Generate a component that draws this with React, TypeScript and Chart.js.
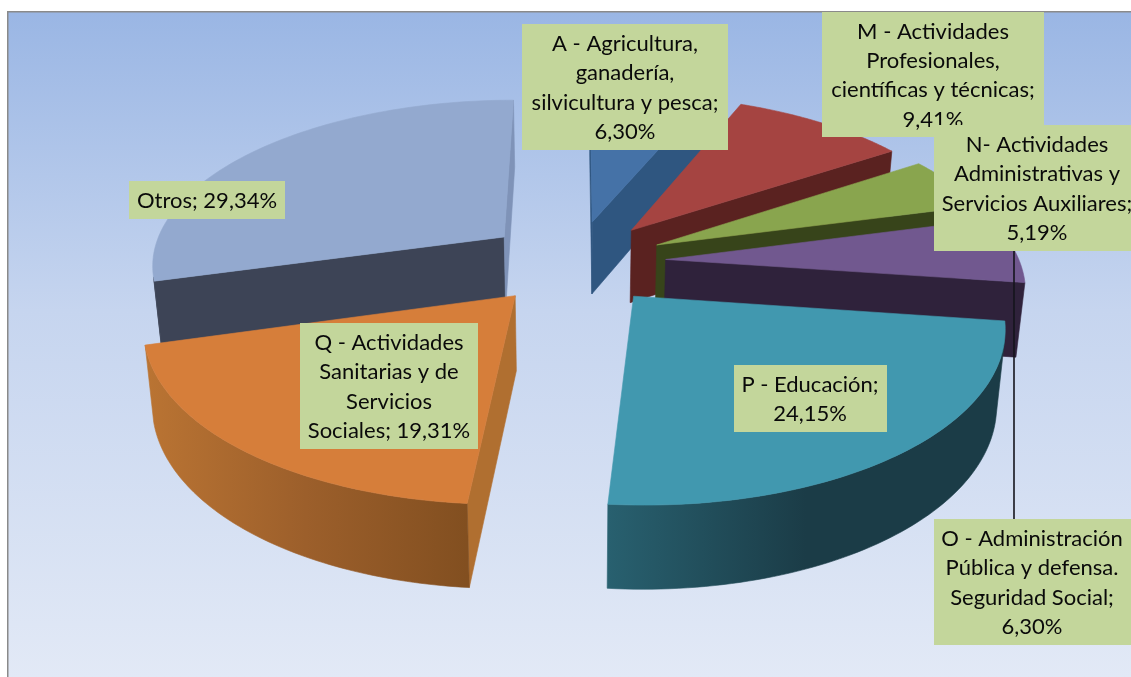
import React, { useEffect, useRef } from "react";
import { Chart, registerables } from "chart.js";

Chart.register(...registerables);

// ---- data ----
const categories = ["A", "M", "N", "O", "P", "Q", "Otros"];
const values = [6.3, 9.41, 5.19, 6.3, 24.15, 19.31, 29.34];
const labelLines = [
  ["A - Agricultura,", "ganadería,", "silvicultura y pesca;", "6,30%"],
  ["M - Actividades", "Profesionales,", "científicas y técnicas;", "9,41%"],
  ["N- Actividades", "Administrativas y", "Servicios Auxiliares;", "5,19%"],
  ["O - Administración", "Pública y defensa.", "Seguridad Social;", "6,30%"],
  ["P - Educación;", "24,15%"],
  ["Q - Actividades", "Sanitarias y de", "Servicios", "Sociales; 19,31%"],
  ["Otros; 29,34%"],
];

// ---- styles ----
const topColors = ["#4572a7", "#a54441", "#89a54e", "#71588f", "#4198af", "#d67e3a", "#93a9cf"];
const startFace = ["#2f5680", "#5a2220", "#37441a", "#2f223b", "#1d4652", "#b06f30", "#3d4456"];
const endFace = ["#2f5680", "#5a2220", "#37441a", "#2f223b", "#1d4652", "#b06f30", "#7f93b8"];
const wallLeft = ["#2f5680", "#5a2220", "#37441a", "#2f223b", "#28606f", "#ba7433", "#3d4456"];
const wallMid = ["#2f5680", "#5a2220", "#37441a", "#2f223b", "#1b3c47", "#9c5f2b", "#3d4456"];
const wallRight = ["#2f5680", "#5a2220", "#37441a", "#2f223b", "#1b3c47", "#824f20", "#3d4456"];
const paintOrder = [0, 1, 6, 2, 3, 5, 4];
// label box: x, y, width, height, text centre x
const boxes = [
  [522, 24, 206, 126, 625],
  [822, 12, 222, 125, 933],
  [934, 125, 197, 126, 1037],
  [934, 519, 197, 126, 1032],
  [734, 365, 153, 67, 810],
  [300, 323, 178, 126, 389],
  [129, 181, 156, 38, 207],
];
const LINE_H = 29.3;

// perspective parameters
const CX = 575, CY = 262, A = 354, B = 165, P = 0.154, EXPLODE = 0.257;
const BASE_SX = 0.98, BASE_SY = 1.043, BASE_DY = 73.7;

type Pt = [number, number];
const projectTop = (u: number, v: number): Pt => {
  const w = 1 - P * v;
  return [CX + (A * u) / w, CY + (B * v) / w];
};
const toBase = (p: Pt): Pt => [CX + (p[0] - CX) * BASE_SX, CY + BASE_DY + (p[1] - CY) * BASE_SY];
const quadArea = (a: Pt, b: Pt, c: Pt, d: Pt) => {
  const q = [a, b, c, d];
  let s = 0;
  for (let i = 0; i < 4; i++) {
    const n = q[(i + 1) % 4];
    s += q[i][0] * n[1] - n[0] * q[i][1];
  }
  return s;
};
const fillPoly = (ctx: CanvasRenderingContext2D, pts: Pt[], fill: any) => {
  ctx.beginPath();
  pts.forEach((p, i) => (i ? ctx.lineTo(p[0], p[1]) : ctx.moveTo(p[0], p[1])));
  ctx.closePath();
  ctx.fillStyle = fill;
  ctx.strokeStyle = fill;
  ctx.lineWidth = 0.6;
  ctx.fill();
  ctx.stroke();
};

const pie3d = {
  id: "pie3d",
  beforeDraw(chart: any) {
    const { ctx, width, height } = chart;
    ctx.save();
    ctx.fillStyle = "#ffffff";
    ctx.fillRect(0, 0, width, height);
    const g = ctx.createLinearGradient(0, 12, 0, height);
    g.addColorStop(0, "#9ab6e4");
    g.addColorStop(0.45, "#c6d5ef");
    g.addColorStop(1, "#e2e9f6");
    ctx.fillStyle = g;
    ctx.fillRect(8, 12, width - 8, height - 12);
    ctx.fillStyle = "#8a8a8a";
    ctx.fillRect(7, 11, width - 7, 1.5);
    ctx.fillRect(7, 11, 1.5, height - 11);
    ctx.restore();
  },
  beforeDatasetDraw(chart: any, args: any) {
    const { ctx } = chart;
    const arcs = args.meta.data;
    ctx.save();
    for (const i of paintOrder) {
      const arc = arcs[i];
      const s = arc.startAngle;
      const e = arc.endAngle;
      const mid = (s + e) / 2;
      const ou = Math.cos(mid) * EXPLODE;
      const ov = Math.sin(mid) * EXPLODE;
      const apex = projectTop(ou, ov);
      const steps = 72;
      const rim: Pt[] = [];
      for (let k = 0; k <= steps; k++) {
        const t = s + ((e - s) * k) / steps;
        rim.push(projectTop(ou + Math.cos(t), ov + Math.sin(t)));
      }
      const apexB = toBase(apex);
      const rimB = rim.map(toBase);
      // radial faces
      const first = rim[0];
      const last = rim[steps];
      if (quadArea(apex, first, toBase(first), apexB) < 0)
        fillPoly(ctx, [apex, first, toBase(first), apexB], startFace[i]);
      if (quadArea(last, apex, apexB, toBase(last)) < 0)
        fillPoly(ctx, [last, apex, apexB, toBase(last)], endFace[i]);
      // outer wall
      let run: number[] = [];
      const flush = () => {
        if (run.length > 1) {
          const a = run.map((k) => rim[k]);
          const b = run.map((k) => rimB[k]).reverse();
          const xs = a.map((p) => p[0]);
          const g = ctx.createLinearGradient(Math.min(...xs), 0, Math.max(...xs), 0);
          g.addColorStop(0, wallLeft[i]);
          g.addColorStop(0.5, wallMid[i]);
          g.addColorStop(1, wallRight[i]);
          fillPoly(ctx, [...a, ...b], g);
        }
        run = [];
      };
      for (let k = 0; k < steps; k++) {
        const vis = quadArea(rim[k], rim[k + 1], rimB[k + 1], rimB[k]) < 0;
        if (vis) {
          if (!run.length) run.push(k);
          run.push(k + 1);
        } else flush();
      }
      flush();
      // top face
      fillPoly(ctx, [apex, ...rim], arc.options.backgroundColor);
    }
    ctx.restore();
    return false;
  },
  afterDatasetsDraw(chart: any) {
    const { ctx } = chart;
    ctx.save();
    // leader line of label O
    ctx.strokeStyle = "#15151c";
    ctx.lineWidth = 1.6;
    ctx.beginPath();
    ctx.moveTo(1014, 250);
    ctx.lineTo(1014, 520);
    ctx.stroke();
    ctx.textAlign = "center";
    ctx.textBaseline = "middle";
    ctx.font = '22px Lato, "Noto Sans", sans-serif';
    labelLines.forEach((lines, i) => {
      const [x, y, w, h, tx] = boxes[i];
      ctx.fillStyle = "#c3d69b";
      ctx.fillRect(x, y, w, h);
      ctx.fillStyle = "#0a0a0a";
      const start = y + h / 2 + 1 - ((lines.length - 1) * LINE_H) / 2;
      lines.forEach((line, j) => ctx.fillText(line, tx, start + j * LINE_H));
    });
    ctx.restore();
  },
};

export default function App() {
  const ref = useRef<HTMLCanvasElement>(null);
  useEffect(() => {
    const chart = new Chart(ref.current!, {
      type: "pie",
      data: {
        labels: categories,
        datasets: [{ data: values, backgroundColor: topColors, borderWidth: 0 }],
      },
      options: {
        animation: false,
        responsive: false,
        layout: { padding: 0 },
        plugins: { legend: { display: false }, tooltip: { enabled: false } },
      },
      plugins: [pie3d as any],
    });
    return () => chart.destroy();
  }, []);
  return (
    <div style={{ position: "fixed", left: 0, top: 0, width: 1131, height: 677, background: "#fff" }}>
      <canvas ref={ref} width={1131} height={677} style={{ display: "block" }} />
    </div>
  );
}
